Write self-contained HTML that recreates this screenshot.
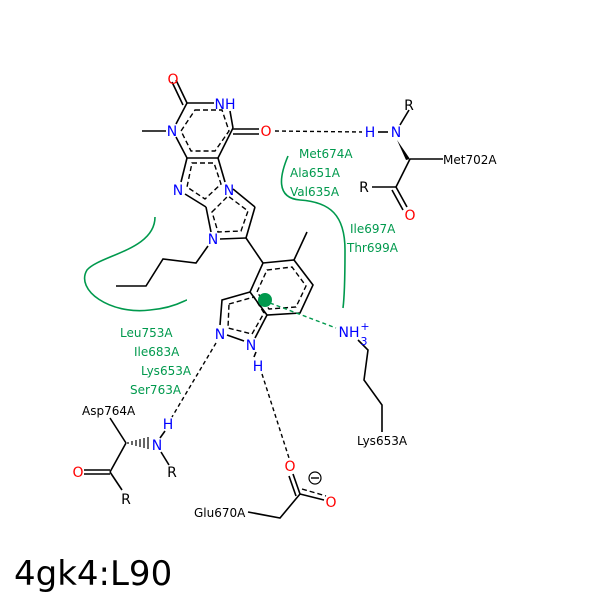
<!DOCTYPE html>
<html><head><style>body{margin:0;background:#fff}svg{display:block}</style></head><body>
<svg width="600" height="600" viewBox="0 0 600 600" xmlns="http://www.w3.org/2000/svg" font-family="DejaVu Sans, Liberation Sans, sans-serif">
<rect x="0" y="0" width="600" height="600" fill="#fff"/>
<g stroke="#000" stroke-width="1.6" fill="none">
<polyline points="187,103 214,103"/>
<polyline points="233,128 218,158 187,158 176,137"/>
<line x1="166" y1="131" x2="142" y2="131"/>
<line x1="176" y1="124" x2="187" y2="103"/>
<line x1="230" y1="111" x2="233" y2="128"/>
<line x1="187" y1="103" x2="176" y2="80"/><line x1="183" y1="105" x2="172" y2="82"/>
<line x1="233" y1="129" x2="259" y2="129"/><line x1="233" y1="134" x2="259" y2="134"/>
<line x1="187" y1="158" x2="181" y2="182"/>
<line x1="218" y1="158" x2="225" y2="182"/>
<line x1="185" y1="194" x2="206" y2="207"/>
<line x1="206" y1="207" x2="211" y2="232"/>
<line x1="233" y1="189" x2="255" y2="207"/>
<line x1="255" y1="207" x2="246" y2="238"/>
<line x1="246" y1="238" x2="220" y2="239"/>
<polyline points="208,246 196,263 163,259 146,286 116,286"/>
<line x1="246" y1="238" x2="263" y2="263"/>
<polygon points="263,263 294,260 313,285 300,313 267,315 250,292"/>
<line x1="294" y1="260" x2="307" y2="232"/>
<polyline points="250,292 222,300 220,325"/>
<line x1="267" y1="315" x2="255" y2="338"/>
<line x1="227" y1="335" x2="244" y2="341"/>
<line x1="378" y1="132" x2="388" y2="132"/>
<line x1="400" y1="125" x2="409" y2="110"/>
<line x1="410" y1="159" x2="443" y2="159"/>
<line x1="410" y1="159" x2="396" y2="187"/>
<line x1="372" y1="187" x2="396" y2="187"/>
<line x1="396" y1="187" x2="407" y2="207"/><line x1="392" y1="190" x2="403" y2="210"/>
<polyline points="358,340 368,350 364,380 382,405 382,432"/>
<line x1="110" y1="418" x2="126" y2="443"/>
<line x1="126" y1="443" x2="110" y2="472"/>
<line x1="84" y1="470" x2="110" y2="470"/><line x1="84" y1="474" x2="110" y2="474"/>
<line x1="110" y1="472" x2="122" y2="490"/>
<line x1="161" y1="452" x2="169" y2="465"/>
<line x1="165" y1="431" x2="160" y2="438"/>
<polyline points="248,512 280,518 300,494"/>
<line x1="300" y1="494" x2="293" y2="474"/><line x1="296" y1="496" x2="289" y2="476"/>
<line x1="300" y1="494" x2="324" y2="500"/>
<line x1="254" y1="357" x2="256" y2="352"/>
</g>
<polygon points="397,140 410,159 406,160" fill="#000"/>
<g stroke="#000" stroke-width="1.2">
<line x1="128" y1="442" x2="128" y2="444"/><line x1="132" y1="441" x2="132" y2="445"/><line x1="136" y1="440" x2="136" y2="446"/><line x1="140" y1="439" x2="140" y2="447"/><line x1="144" y1="438" x2="144" y2="448"/><line x1="148" y1="437" x2="148" y2="449"/>
</g>
<g stroke="#000" stroke-width="1.4" fill="none" stroke-dasharray="5,3">
<polygon points="195,110 222,110 229,131 215,151 191,151 181,131"/>
<polygon points="192,163 214,163 221,184 205,199 187,187"/>
<polygon points="212,212 228,196 248,211 241,231 218,232"/>
<polygon points="267,270 292,267 306,286 296,307 269,309 257,292"/>
<polygon points="229,304 254,297 264,313 252,334 228,328"/>
<line x1="302" y1="489" x2="326" y2="496"/>
</g>
<g stroke="#000" stroke-width="1.4" stroke-dasharray="4,3" fill="none">
<line x1="275" y1="131" x2="362" y2="132"/>
<line x1="216" y1="343" x2="172" y2="417"/>
<line x1="262" y1="374" x2="289" y2="458"/>
</g>
<circle cx="265" cy="300" r="7" fill="#00994d"/>
<line x1="270" y1="303" x2="336" y2="328" stroke="#00994d" stroke-width="1.4" stroke-dasharray="4,3"/>
<g stroke="#00994d" stroke-width="1.6" fill="none">
<path d="M155,217 C155,250 100,255 87,270 C75,290 110,315 150,310 C175,308 185,300 187,300"/>
<path d="M288,156 C280,175 275,198 300,200 C330,202 345,215 345,250 C345,290 344,300 343,308"/>
</g>
<g font-size="12" fill="#00994d">
<text x="299" y="158">Met674A</text>
<text x="290" y="177">Ala651A</text>
<text x="290" y="196">Val635A</text>
<text x="350" y="233">Ile697A</text>
<text x="347" y="252">Thr699A</text>
<text x="120" y="337">Leu753A</text>
<text x="134" y="356">Ile683A</text>
<text x="141" y="375">Lys653A</text>
<text x="130" y="394">Ser763A</text>
</g>
<g font-size="14" fill="#0000ff" text-anchor="middle">
<text x="225" y="109">NH</text>
<text x="172" y="136">N</text>
<text x="178" y="195">N</text>
<text x="229" y="195">N</text>
<text x="213" y="244">N</text>
<text x="220" y="339">N</text>
<text x="251" y="350">N</text>
<text x="258" y="371">H</text>
<text x="370" y="137">H</text>
<text x="396" y="137">N</text>
<text x="168" y="429">H</text>
<text x="157" y="450">N</text>
<text x="349" y="337">NH</text>
<text x="364" y="345" font-size="11">3</text>
<text x="365" y="330" font-size="11">+</text>
</g>
<g font-size="14" fill="#ff0000" text-anchor="middle">
<text x="173" y="84">O</text>
<text x="266" y="136">O</text>
<text x="410" y="220">O</text>
<text x="78" y="477">O</text>
<text x="290" y="471">O</text>
<text x="331" y="507">O</text>
</g>
<circle cx="315" cy="478" r="6" fill="none" stroke="#000" stroke-width="1.2"/>
<line x1="311" y1="478" x2="319" y2="478" stroke="#000" stroke-width="1.4"/>
<g font-size="14" fill="#000" text-anchor="middle">
<text x="409" y="110">R</text>
<text x="364" y="192">R</text>
<text x="172" y="477">R</text>
<text x="126" y="504">R</text>
</g>
<g font-size="12" fill="#000">
<text x="443" y="164">Met702A</text>
<text x="357" y="445">Lys653A</text>
<text x="82" y="415">Asp764A</text>
<text x="194" y="517">Glu670A</text>
</g>
<text x="14" y="585" font-size="34" fill="#000">4gk4:L90</text>
</svg>
</body></html>
